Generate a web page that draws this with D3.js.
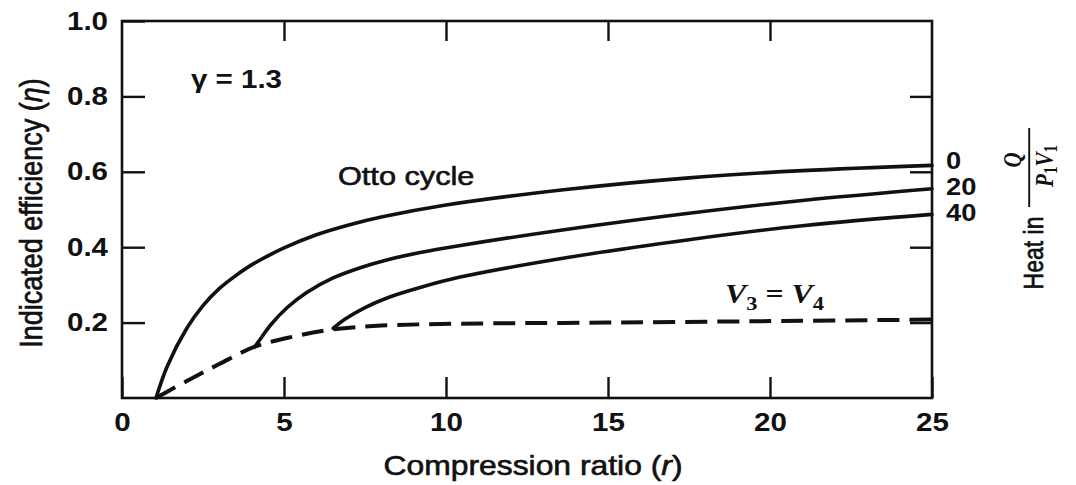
<!DOCTYPE html>
<html>
<head>
<meta charset="utf-8">
<script src="https://cdn.jsdelivr.net/npm/d3@7"></script>
<style>
  html, body { margin: 0; padding: 0; background: #fff; }
  svg { display: block; }
  text { fill: #111; font-family: "Liberation Sans", Arial, sans-serif; }
  .heavy { stroke: #111; stroke-width: 0.6px; }
</style>
</head>
<body>
<svg id="chart" width="1076" height="485"></svg>
<script>
// ---- data ----
const xTicks = [0, 5, 10, 15, 20, 25];
const yTicks = [0.2, 0.4, 0.6, 0.8, 1.0];
const heatLabels = ["0", "20", "40"];

// Otto cycle (Q/P1V1 = 0)
const ottoR   = [1.05, 1.4, 2.0, 2.5, 3.0, 3.5, 4.0, 5.0, 6.0, 7.0, 8.0, 10.0, 13.7, 17.5, 21, 25];
const ottoEta = [0, 0.085, 0.185, 0.245, 0.29, 0.324, 0.353, 0.398, 0.433, 0.459, 0.48, 0.512, 0.553, 0.584, 0.603, 0.617];
// Q/P1V1 = 20
const q20R   = [4.1, 4.3, 4.6, 5.1, 5.7, 6.5, 7.4, 8.2, 9.2, 10.4, 13.7, 17.5, 21, 25];
const q20Eta = [0.136, 0.16, 0.195, 0.24, 0.28, 0.318, 0.347, 0.367, 0.386, 0.404, 0.447, 0.49, 0.524, 0.555];
// Q/P1V1 = 40
const q40R   = [6.52, 6.9, 7.5, 8.2, 9.2, 10.4, 13.7, 17.5, 21, 25];
const q40Eta = [0.185, 0.21, 0.24, 0.266, 0.293, 0.32, 0.372, 0.42, 0.457, 0.487];
// V3 = V4 limit (dashed)
const v34R   = [1.05, 2, 3, 4.1, 5.3, 6.52, 8, 10.4, 15, 20, 25];
const v34Eta = [0, 0.045, 0.09, 0.136, 0.163, 0.182, 0.192, 0.197, 0.2, 0.204, 0.208];

// ---- drawing ----
const svg = d3.select("#chart");
const S = 1.18; // horizontal stretch of the scanned lettering

const x = d3.scaleLinear().domain([0, 25]).range([122, 932]);
const y = d3.scaleLinear().domain([0, 1]).range([398, 21]);

const zip = (rs, es) => rs.map((r, i) => ({ r, e: es[i] }));
const line = d3.line().x(d => x(d.r)).y(d => y(d.e)).curve(d3.curveCatmullRom.alpha(0.5));

// axes (ticks point inward)
const gB = svg.append("g").attr("transform", `translate(0,${y(0)})`)
  .call(d3.axisBottom(x).tickValues(xTicks).tickSizeInner(-21).tickSizeOuter(0).tickPadding(15));
const gT = svg.append("g").attr("transform", `translate(0,${y(1)})`)
  .call(d3.axisTop(x).tickValues(xTicks.slice(1, -1)).tickSizeInner(-20).tickSizeOuter(0).tickFormat(""));
const gL = svg.append("g").attr("transform", `translate(${x(0)},0)`)
  .call(d3.axisLeft(y).tickValues(yTicks).tickSizeInner(-23).tickSizeOuter(0).tickPadding(14).tickFormat(d3.format(".1f")));
const gR = svg.append("g").attr("transform", `translate(${x(25)},0)`)
  .call(d3.axisRight(y).tickValues(yTicks.slice(0, -1)).tickSizeInner(-22).tickSizeOuter(0).tickFormat(""));

[gB, gT, gL, gR].forEach(g => {
  g.select(".domain").remove();
  g.selectAll("line").attr("stroke", "#111").attr("stroke-width", 2.4);
  g.selectAll("text")
    .attr("fill", "#111")
    .style("font-family", "'Liberation Sans', Arial, sans-serif")
    .style("font-size", "25px")
    .style("font-weight", "bold");
});
gB.selectAll("text").attr("transform", `scale(${S},1)`);
gL.selectAll("text").each(function () {
  const t = d3.select(this);
  const px = +t.attr("x");
  t.attr("x", 0).attr("transform", `translate(${px},0) scale(${S},1)`);
});

// frame
svg.append("rect")
  .attr("x", x(0)).attr("y", y(1))
  .attr("width", x(25) - x(0)).attr("height", y(0) - y(1))
  .attr("fill", "none").attr("stroke", "#111").attr("stroke-width", 2.6);

// curves
const solid = [zip(ottoR, ottoEta), zip(q20R, q20Eta), zip(q40R, q40Eta)];
svg.append("g").selectAll("path").data(solid).join("path")
  .attr("d", line).attr("fill", "none").attr("stroke", "#111")
  .attr("stroke-width", 3.6).attr("stroke-linecap", "round");

svg.append("path").datum(zip(v34R, v34Eta))
  .attr("d", line).attr("fill", "none").attr("stroke", "#111")
  .attr("stroke-width", 4).attr("stroke-dasharray", "22,10");

// right-hand labels 0 / 20 / 40
svg.append("g").selectAll("text").data(heatLabels).join("text")
  .attr("transform", (d, i) => `translate(946,${[169, 195, 221][i]}) scale(1.3,1.12)`)
  .style("font-size", "21px").style("font-weight", "bold")
  .text(d => d);

// axis titles
svg.append("text").attr("class", "heavy")
  .attr("transform", `translate(533,475) scale(${S},1)`)
  .attr("text-anchor", "middle")
  .style("font-size", "27px")
  .html('Compression ratio (<tspan font-style="italic">r</tspan>)');

svg.append("text").attr("class", "heavy")
  .attr("transform", `translate(42,213) rotate(-90) scale(1,${S})`)
  .attr("text-anchor", "middle")
  .style("font-size", "27px")
  .html('Indicated efficiency (<tspan font-style="italic">η</tspan>)');

// annotations
svg.append("text")
  .attr("transform", `translate(191,88) scale(${S},1)`)
  .style("font-size", "25px").style("font-weight", "bold")
  .text("γ = 1.3");

svg.append("text").attr("class", "heavy")
  .attr("transform", `translate(338,185) scale(${S},1)`)
  .style("font-size", "26px")
  .text("Otto cycle");

const v = svg.append("text")
  .attr("transform", `translate(725,303) scale(${S},1)`)
  .style("font-family", "'Liberation Serif', 'Times New Roman', serif")
  .style("font-size", "27px").style("font-weight", "bold");
v.append("tspan").attr("font-style", "italic").text("V");
v.append("tspan").attr("dy", 7).style("font-size", "19px").text("3");
v.append("tspan").attr("dy", -7).text(" = ");
v.append("tspan").attr("font-style", "italic").text("V");
v.append("tspan").attr("dy", 7).style("font-size", "19px").text("4");

// right title: Heat in Q / (P1 V1), rotated
const h = svg.append("g").attr("transform", `translate(1043,0) rotate(-90) scale(1,1.2)`);
h.append("text").attr("class", "heavy").attr("x", -253).attr("y", 0).attr("text-anchor", "middle")
  .style("font-size", "23px").text("Heat in");
h.append("line").attr("x1", -207).attr("x2", -128).attr("y1", -11.5).attr("y2", -11.5)
  .attr("stroke", "#111").attr("stroke-width", 1.6);
h.append("text").attr("x", -160).attr("y", -18).attr("text-anchor", "middle")
  .style("font-family", "'Liberation Serif', 'Times New Roman', serif")
  .style("font-size", "21px").style("font-style", "italic").style("font-weight", "bold").text("Q");
const p = h.append("text").attr("x", -166).attr("y", 8).attr("text-anchor", "middle")
  .style("font-family", "'Liberation Serif', 'Times New Roman', serif")
  .style("font-size", "21px").style("font-weight", "bold");
p.append("tspan").attr("font-style", "italic").text("P");
p.append("tspan").attr("dy", 4).style("font-size", "15px").text("1");
p.append("tspan").attr("dy", -4).attr("font-style", "italic").text("V");
p.append("tspan").attr("dy", 4).style("font-size", "15px").text("1");
</script>
</body>
</html>
